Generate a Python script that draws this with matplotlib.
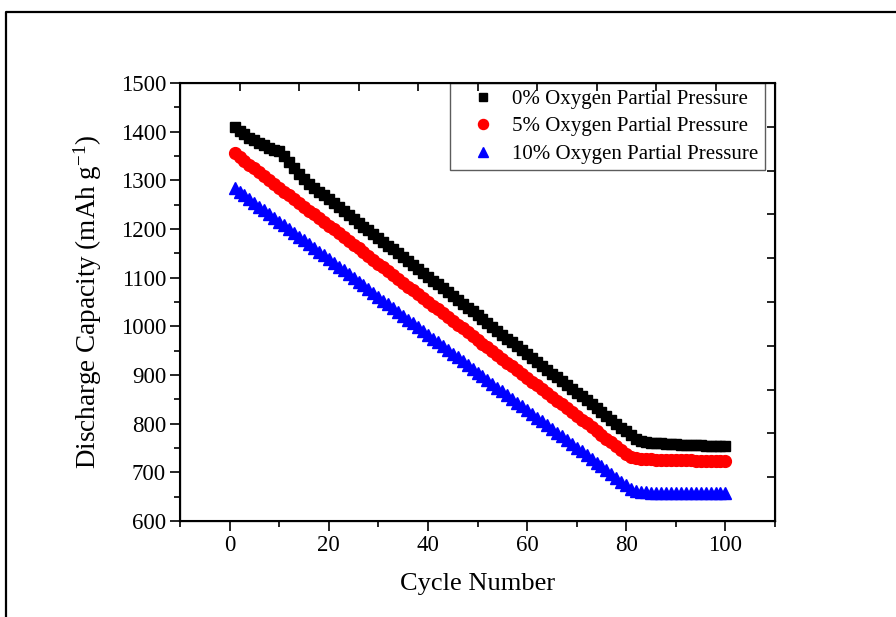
import numpy as np
import matplotlib
matplotlib.use('Agg')
import matplotlib.pyplot as plt
from matplotlib.ticker import MultipleLocator
from matplotlib.lines import Line2D

plt.rcParams['font.family'] = ['Liberation Serif', 'DejaVu Serif']
plt.rcParams['mathtext.fontset'] = 'custom'
plt.rcParams['mathtext.rm'] = 'Liberation Serif'
plt.rcParams['mathtext.default'] = 'regular'

cycles = list(range(1, 101))

cap_0 = [1410, 1402, 1395, 1388, 1382, 1377, 1372, 1367, 1363, 1360,
         1350, 1338, 1325, 1312, 1302,
         1293, 1285, 1277, 1269, 1261, 1253, 1245, 1237, 1229, 1221,
         1213, 1205, 1197, 1189, 1181, 1173, 1166, 1158, 1150, 1142,
         1134, 1126, 1118, 1110, 1102, 1094, 1086, 1078, 1070, 1062,
         1054, 1046, 1038, 1031, 1023, 1015, 1007, 999, 991, 983,
         975, 967, 959, 951, 943, 935, 927, 919, 911, 903,
         896, 888, 880, 872, 864, 856, 848, 840, 832, 824,
         816, 808, 800, 792, 785,
         776, 768, 764, 762, 761, 760, 760, 759, 758, 758,
         757, 757, 756, 756, 756, 755, 755, 755, 755, 754]

cap_5 = [1357, 1348, 1340, 1332, 1325, 1317, 1309, 1301, 1293, 1285,
         1277, 1270, 1262, 1254, 1246, 1238, 1230, 1222, 1215, 1207,
         1199, 1191, 1183, 1175, 1168, 1160, 1152, 1144, 1136, 1128,
         1121, 1113, 1105, 1097, 1089, 1081, 1074, 1066, 1058, 1050,
         1042, 1035, 1027, 1019, 1011, 1003, 996, 988, 980, 972,
         964, 957, 949, 941, 933, 925, 918, 910, 902, 894,
         886, 879, 871, 863, 855, 847, 840, 832, 824, 816,
         808, 801, 793, 785, 777, 769, 762, 754, 746, 738,
         732, 729, 728, 727, 727, 726, 726, 726, 725, 725,
         725, 725, 725, 724, 724, 724, 724, 724, 724, 724]

cap_10 = [1285, 1277, 1270, 1262, 1254, 1246, 1239, 1231, 1223, 1215,
          1208, 1200, 1192, 1184, 1177, 1169, 1161, 1153, 1146, 1138,
          1130, 1122, 1115, 1107, 1099, 1091, 1084, 1076, 1068, 1060,
          1053, 1045, 1037, 1029, 1022, 1014, 1006, 998, 991, 983,
          975, 967, 960, 952, 944, 936, 929, 921, 913, 905,
          898, 890, 882, 874, 867, 859, 851, 843, 836, 828,
          820, 812, 805, 797, 789, 781, 774, 766, 758, 750,
          743, 735, 727, 719, 712, 704, 696, 688, 681, 673,
          666, 662, 660, 659, 658, 658, 657, 657, 657, 657,
          657, 657, 657, 657, 657, 657, 657, 657, 657, 657]

labels = ['0% Oxygen Partial Pressure',
          '5% Oxygen Partial Pressure',
          '10% Oxygen Partial Pressure']

fig = plt.figure(figsize=(8.96, 6.17), dpi=100)
ax = fig.add_axes([180/896., 1-521/617., 595/896., 438/617.])

ax.plot(cycles, cap_0, 's', color='black', ms=7.5, mec='black', lw=0, label=labels[0])
ax.plot(cycles, cap_5, 'o', color='red', ms=8.5, mec='red', lw=0, label=labels[1])
ax.plot(cycles, cap_10, '^', color='blue', ms=9, mec='blue', lw=0, label=labels[2])

ax.set_xlim(-10, 110)
ax.set_ylim(600, 1500)
ax.xaxis.set_major_locator(MultipleLocator(20))
ax.xaxis.set_minor_locator(MultipleLocator(10))
ax.yaxis.set_major_locator(MultipleLocator(100))
ax.yaxis.set_minor_locator(MultipleLocator(50))
ax.tick_params(which='major', direction='out', length=7, width=1.2, labelsize=16.5, pad=3)
ax.tick_params(which='minor', direction='out', length=4, width=1.2)
for s in ax.spines.values():
    s.set_linewidth(1.5)

ax.set_xlabel('Cycle Number', fontsize=19, labelpad=12)
ax.set_ylabel('Discharge Capacity (mAh g$^{-1}$)', fontsize=19.5, labelpad=12)

# top / right frame ticks (separate layer, 10 divisions)
axt = ax.twiny()
axt.set_xlim(0, 10)
axt.xaxis.set_major_locator(MultipleLocator(1))
axt.tick_params(axis='x', direction='in', length=6, width=1.2, labeltop=False)
axr = ax.twinx()
axr.set_ylim(0, 10)
axr.yaxis.set_major_locator(MultipleLocator(1))
axr.tick_params(axis='y', direction='in', length=6, width=1.2, labelright=False)

leg = ax.legend(loc='upper right', bbox_to_anchor=(0.983, 1.0), borderaxespad=0,
                fontsize=15, frameon=True, fancybox=False, handlelength=2.6,
                handletextpad=0.1, labelspacing=0.38, borderpad=0.3, markerscale=0.85)
leg.get_frame().set_edgecolor('#333333')
leg.get_frame().set_linewidth(1.0)

# outer frame
fig.add_artist(Line2D([6/896., 6/896., 1.0], [0.0, 1-12/617., 1-12/617.],
                      transform=fig.transFigure, color='black', lw=1.6))

fig.savefig('out.png', dpi=100)
